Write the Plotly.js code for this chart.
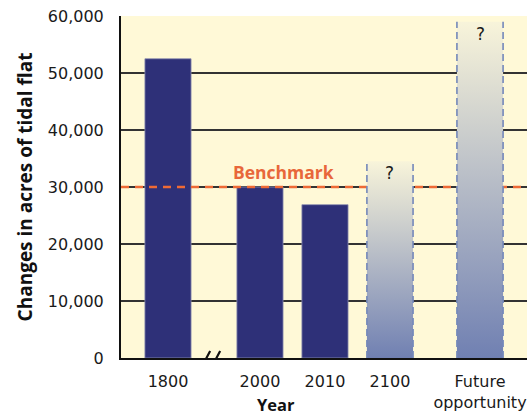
<!DOCTYPE html>
<html>
<head>
<meta charset="utf-8">
<script src="https://cdn.plot.ly/plotly-3.0.1.min.js"></script>
<style>html,body{margin:0;padding:0;background:#fff;}#chart{width:527px;height:416px;}</style>
</head>
<body>
<div id="chart"></div>
<script>
// ---- data ----
var categories = ['1800', '2000', '2010', '2100', 'Future<br>opportunity'];
var acres = [52500, 30000, 26900, 34500, 59000];
var isProjected = [false, false, false, true, true];
var benchmark = 30000;
var benchmarkLabel = 'Benchmark';
var projectedLabel = '?';
var yTicks = [0, 10000, 20000, 30000, 40000, 50000, 60000];

// ---- layout config (positions on a numeric x axis, uneven because of the axis break) ----
var slots = [-1.415, 0, 1, 2, 3.385];
var barW = 0.71;
var breakPos = -0.72;
var xRange = [-2.138, 4.108];

var FONT = '"Open Sans", "Noto Sans", sans-serif';
var TICKFONT = '"DejaVu Sans", "Open Sans", sans-serif';
var navy = '#2E3078';
var traces = [];

// benchmark line (drawn first so bars cover it)
traces.push({
  type: 'scatter', mode: 'lines', x: xRange, y: [benchmark, benchmark],
  line: {color: '#EE6A35', width: 2.5, dash: '8px,6px'},
  hoverinfo: 'skip', showlegend: false, cliponaxis: true
});

// actual bars
var ax = [], ay = [];
for (var i = 0; i < categories.length; i++) {
  if (!isProjected[i]) { ax.push(slots[i]); ay.push(acres[i]); }
}
traces.push({
  type: 'bar', x: ax, y: ay, width: barW,
  marker: {color: navy, line: {color: '#8d8fb0', width: 0.8}},
  hoverinfo: 'skip', showlegend: false
});

// projected bars: gradient-filled rectangles with dashed sides
var annotations = [];
for (var j = 0; j < categories.length; j++) {
  if (!isProjected[j]) continue;
  var x0 = slots[j] - barW / 2, x1 = slots[j] + barW / 2, v = acres[j];
  traces.push({
    type: 'scatter', mode: 'lines',
    x: [x0, x1, x1, x0, x0], y: [0, 0, v, v, 0],
    fill: 'toself', line: {width: 0},
    fillgradient: {type: 'vertical', start: 0, stop: v,
      colorscale: [[0, '#7080B2'], [0.5, '#B4BAC6'], [1, '#F8F4DA']]},
    hoverinfo: 'skip', showlegend: false
  });
  traces.push({
    type: 'scatter', mode: 'lines',
    x: [x0, x0, null, x1, x1], y: [0, v, null, 0, v],
    line: {color: '#7488BA', width: 1.6, dash: '7px,4px'},
    hoverinfo: 'skip', showlegend: false
  });
  annotations.push({
    x: slots[j], y: v, xref: 'x', yref: 'y', text: projectedLabel,
    showarrow: false, yanchor: 'top', yshift: 0,
    font: {family: TICKFONT, size: 17, color: '#1a1a1a'}
  });
}

annotations.push({
  x: slots[1] - 0.45, y: benchmark, xref: 'x', yref: 'y', text: '<b>' + benchmarkLabel + '</b>',
  showarrow: false, xanchor: 'left', yanchor: 'bottom', yshift: 1,
  font: {family: FONT, size: 17.5, color: '#E8673A'}
});
annotations.push({
  x: 0.25, y: 0, xref: 'x', yref: 'paper', text: '<b>Year</b>',
  showarrow: false, yanchor: 'middle', yshift: -46, borderpad: 0,
  font: {family: FONT, size: 16.5, color: '#111'}
});

var shapes = [
  {type: 'line', xref: 'x', yref: 'y', xsizemode: 'pixel', ysizemode: 'pixel',
   xanchor: breakPos, yanchor: 0, x0: -11, x1: -3, y0: -8, y1: 7,
   line: {color: '#111', width: 2.2}},
  {type: 'line', xref: 'x', yref: 'y', xsizemode: 'pixel', ysizemode: 'pixel',
   xanchor: breakPos, yanchor: 0, x0: -1, x1: 7, y0: -8, y1: 7,
   line: {color: '#111', width: 2.2}}
];

var layout = {
  width: 527, height: 416,
  margin: {l: 121, r: 0, t: 16, b: 58},
  paper_bgcolor: '#ffffff', plot_bgcolor: '#FFF9D7',
  font: {family: FONT, size: 16, color: '#1a1a1a'},
  showlegend: false,
  xaxis: {
    range: xRange, tickvals: slots, ticktext: categories,
    showgrid: false, zeroline: false, showline: true, linecolor: '#111', linewidth: 2,
    ticks: '', ticklabelstandoff: 8, ticklabeloverflow: 'allow',
    tickfont: {family: TICKFONT, size: 16, color: '#1a1a1a'},
    fixedrange: true
  },
  yaxis: {
    range: [0, 60000], tickvals: yTicks, tickformat: ',d',
    showgrid: true, gridcolor: '#333', gridwidth: 1.2,
    zeroline: false, showline: true, linecolor: '#111', linewidth: 2,
    ticks: '', ticklabelstandoff: 12, ticklabeloverflow: 'allow',
    tickfont: {family: TICKFONT, size: 16, color: '#1a1a1a'},
    title: {text: '<b>Changes in acres of tidal flat</b>', standoff: 10,
            font: {family: FONT, size: 19, color: '#111'}},
    fixedrange: true
  },
  shapes: shapes,
  annotations: annotations
};

Plotly.newPlot('chart', traces, layout, {displayModeBar: false, staticPlot: true});
</script>
</body>
</html>
